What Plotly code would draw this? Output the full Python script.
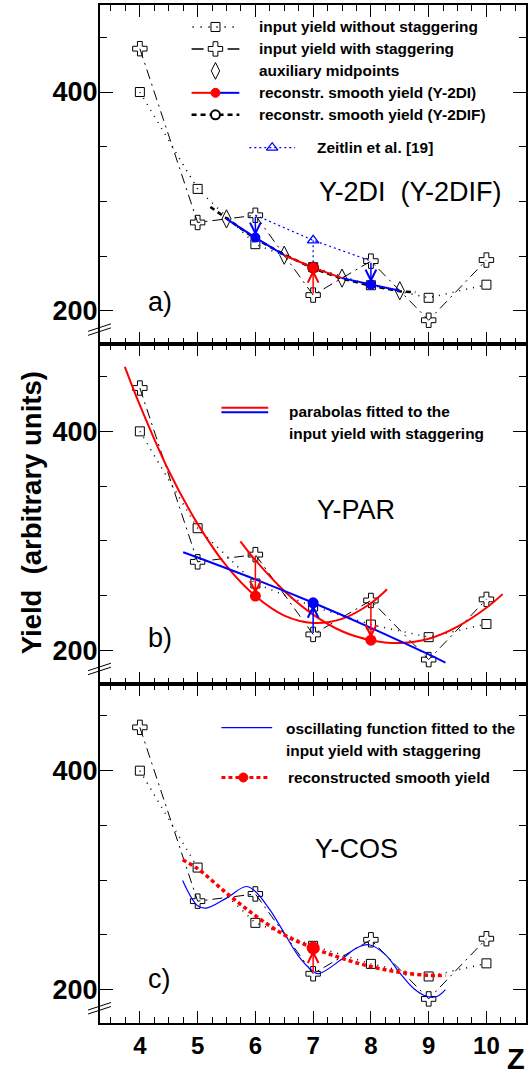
import plotly.graph_objects as go
from plotly.subplots import make_subplots

# ---------------- data ----------------
Z = [4, 5, 6, 7, 8, 9, 10]
yield_no_stag = [400, 311.5, 261, 240, 223.5, 212, 224]
yield_stag = [439.6, 280.8, 287.4, 214.5, 245.5, 191.5, 246.5]

# panel a
mid_Z = [5.5, 6.5, 7.5, 8.5]
mid_vals = [284.1, 250.9, 230.0, 218.5]
y2di_Z = [5.5, 6, 6.5, 7, 7.5, 8, 8.5]
y2di_vals = [284.1, 267.0, 250.9, 239.6, 230.0, 224.0, 218.5]
y2dif_Z = [5.22, 5.5, 6, 6.5, 7, 7.5, 8, 8.5, 8.77]
y2dif_vals = [295, 284.5, 266, 251.5, 239, 229.5, 223, 218, 217]
zeit_Z = [6, 7, 8]
zeit_vals = [287.5, 264.5, 245.7]

# panel b (parabolas)
par1_Z = [3.74, 4.0, 4.5, 5.0, 5.5, 6.0, 6.5, 7.0, 7.5, 8.0, 8.28]
par1_vals = [459, 424, 364, 315.5, 277, 249.5, 231.7, 225, 228.7, 243, 255.7]
par2_Z = [5.74, 6.0, 6.5, 7.0, 7.5, 8.0, 8.5, 9.0, 9.5, 10.0, 10.28]
par2_vals = [299.5, 282.3, 254.2, 232.6, 217.4, 209.2, 206.6, 210.5, 221.6, 238.8, 251.3]
par3_Z = [4.75, 5.0, 6.0, 7.0, 8.0, 9.0, 9.29]
par3_vals = [289.6, 284.8, 264.8, 243.4, 220.5, 196.2, 188.8]
parb_red_Z = [6, 8]
parb_red_vals = [249.5, 209.2]
parb_blue_Z = [7]
parb_blue_vals = [243.4]

# panel c
osc_Z = [4.74, 5.0, 5.15, 5.5, 5.84, 6.0, 6.25, 6.5, 6.75, 7.0, 7.1, 7.5, 7.75,
         7.97, 8.25, 8.5, 8.75, 9.0, 9.15, 9.29]
osc_vals = [299.7, 276.6, 274.5, 283.6, 294.2, 289.7, 273, 251.7, 230.4, 216.7,
            214.6, 228, 238, 241, 232, 215.2, 200.6, 193.3, 193.9, 200]
smooth_Z = [4.74, 5.0, 5.5, 6.0, 6.5, 7.0, 7.5, 8.0, 8.5, 9.0, 9.29]
smooth_vals = [318.6, 310.5, 288.2, 267.5, 250, 238, 228.5, 221, 215.8, 213, 213]

x_ticks = [4, 5, 6, 7, 8, 9, 10]
y_ticks = [200, 400]

# ---------------- layout geometry ----------------
W, H = 531, 1075
ML, MR, MT, MB = 100, 3, 3, 52
PW = W - ML - MR
PH = H - MT - MB
FONT = "Liberation Sans, Arial, sans-serif"


def px(x):
    return (x - ML) / PW


def py(y):
    return (H - MB - y) / PH


fig = make_subplots(rows=3, cols=1, shared_xaxes=True, vertical_spacing=0)

RED = "#ff0000"
BLUE = "#0000ff"


def add_inputs(row):
    fig.add_trace(go.Scatter(x=Z, y=yield_no_stag, mode="lines+markers",
                             line=dict(color="black", width=1.5, dash="1px,6px"),
                             marker=dict(symbol="square-open", size=9, color="black",
                                         line=dict(width=1)),
                             showlegend=False), row=row, col=1)
    fig.add_trace(go.Scatter(x=Z, y=yield_stag, mode="lines+markers",
                             line=dict(color="black", width=1, dash="10px,5px,2px,5px"),
                             marker=dict(symbol="cross-open", size=12, color="black",
                                         line=dict(width=1)),
                             showlegend=False), row=row, col=1)


def add_arrow(xref, yref, x, y0, y1, color):
    fig.add_annotation(x=x, y=y1, ax=x, ay=y0, xref=xref, yref=yref,
                       axref=xref, ayref=yref, text="", showarrow=True,
                       arrowhead=5, arrowsize=1.4, arrowwidth=1.5,
                       arrowcolor=color, standoff=2)


# ---- panel a ----
add_inputs(1)
fig.add_trace(go.Scatter(x=mid_Z, y=mid_vals, mode="markers",
                         marker=dict(symbol="diamond-tall-open", size=13, color="black",
                                     line=dict(width=1)), showlegend=False), row=1, col=1)
fig.add_trace(go.Scatter(x=y2dif_Z, y=y2dif_vals, mode="lines",
                         line=dict(color="black", width=2.5, dash="5px,4px"),
                         showlegend=False), row=1, col=1)
for sl, col in [(slice(0, 3), BLUE), (slice(2, 5), RED), (slice(4, 7), BLUE)]:
    fig.add_trace(go.Scatter(x=y2di_Z[sl], y=y2di_vals[sl], mode="lines",
                             line=dict(color=col, width=2), showlegend=False), row=1, col=1)
fig.add_trace(go.Scatter(x=zeit_Z, y=zeit_vals, mode="lines",
                         line=dict(color=BLUE, width=1.2, dash="2px,3px"),
                         showlegend=False), row=1, col=1)
fig.add_trace(go.Scatter(x=[zeit_Z[1], zeit_Z[1]], y=[zeit_vals[1], y2di_vals[3]], mode="lines",
                         line=dict(color=BLUE, width=1.2, dash="2px,3px"),
                         showlegend=False), row=1, col=1)
fig.add_trace(go.Scatter(x=[zeit_Z[1]], y=[zeit_vals[1]], mode="markers",
                         marker=dict(symbol="triangle-up-open", size=10, color=BLUE,
                                     line=dict(width=1.3)), showlegend=False), row=1, col=1)
fig.add_trace(go.Scatter(x=[y2di_Z[1], y2di_Z[5]], y=[y2di_vals[1], y2di_vals[5]], mode="markers",
                         marker=dict(symbol="circle", size=10, color=BLUE), showlegend=False),
              row=1, col=1)
fig.add_trace(go.Scatter(x=[y2di_Z[3]], y=[y2di_vals[3]], mode="markers",
                         marker=dict(symbol="circle", size=11, color=RED,
                                     line=dict(color="#800000", width=1)), showlegend=False),
              row=1, col=1)
add_arrow("x", "y", 6, yield_stag[2], y2di_vals[1], BLUE)
add_arrow("x", "y", 7, yield_stag[3], y2di_vals[3], RED)
add_arrow("x", "y", 8, yield_stag[4], y2di_vals[5], BLUE)

# ---- panel b ----
add_inputs(2)
fig.add_trace(go.Scatter(x=par1_Z, y=par1_vals, mode="lines", line_shape="spline",
                         line=dict(color=RED, width=2), showlegend=False), row=2, col=1)
fig.add_trace(go.Scatter(x=par2_Z, y=par2_vals, mode="lines", line_shape="spline",
                         line=dict(color=RED, width=2), showlegend=False), row=2, col=1)
fig.add_trace(go.Scatter(x=par3_Z, y=par3_vals, mode="lines", line_shape="spline",
                         line=dict(color=BLUE, width=2), showlegend=False), row=2, col=1)
fig.add_trace(go.Scatter(x=parb_red_Z, y=parb_red_vals, mode="markers",
                         marker=dict(symbol="circle", size=11, color=RED), showlegend=False),
              row=2, col=1)
fig.add_trace(go.Scatter(x=parb_blue_Z, y=parb_blue_vals, mode="markers",
                         marker=dict(symbol="circle", size=11, color=BLUE), showlegend=False),
              row=2, col=1)
add_arrow("x2", "y2", 6, yield_stag[2], parb_red_vals[0], RED)
add_arrow("x2", "y2", 7, yield_stag[3], parb_blue_vals[0], BLUE)
add_arrow("x2", "y2", 8, yield_stag[4], parb_red_vals[1], RED)

# ---- panel c ----
add_inputs(3)
fig.add_trace(go.Scatter(x=osc_Z, y=osc_vals, mode="lines", line_shape="spline",
                         line=dict(color=BLUE, width=1.2), showlegend=False), row=3, col=1)
fig.add_trace(go.Scatter(x=smooth_Z, y=smooth_vals, mode="lines", line_shape="spline",
                         line=dict(color=RED, width=3.5, dash="4px,3px"), showlegend=False),
              row=3, col=1)
fig.add_trace(go.Scatter(x=[7], y=[smooth_vals[5]], mode="markers",
                         marker=dict(symbol="circle", size=13, color=RED), showlegend=False),
              row=3, col=1)
add_arrow("x3", "y3", 7, yield_stag[3], smooth_vals[5], RED)

# ---------------- axes ----------------
for i in (1, 2, 3):
    fig.update_xaxes(row=i, col=1, range=[3.31, 10.685], showline=True, linecolor="black",
                     linewidth=2, mirror="allticks", ticks="inside", ticklen=12, tickwidth=1,
                     tickcolor="black", tickvals=x_ticks, showgrid=False, zeroline=False,
                     minor=dict(dtick=0.25, tick0=0, ticklen=6, ticks="inside",
                                tickcolor="black", tickwidth=1, showgrid=False),
                     tickfont=dict(family=FONT, size=24, color="black", weight="bold"))
    fig.update_yaxes(row=i, col=1, range=[169.5, 479.5], showline=True, linecolor="black",
                     linewidth=2, mirror="allticks", ticks="inside", ticklen=13, tickwidth=1,
                     tickcolor="black", tickvals=y_ticks, showgrid=False, zeroline=False,
                     ticklabelstandoff=-5,
                     minor=dict(dtick=50, tick0=0, ticklen=7, ticks="inside",
                                tickcolor="black", tickwidth=1, showgrid=False),
                     tickfont=dict(family=FONT, size=27, color="black", weight="bold"))

# overlay axis in pixel units for legends
fig.update_layout(
    xaxis4=dict(domain=[0, 1], range=[ML, W - MR], visible=False, anchor="y4", fixedrange=True),
    yaxis4=dict(domain=[0, 1], range=[H - MB, MT], visible=False, anchor="x4", fixedrange=True),
)


def leg_line(x0, x1, y, color, width, dash="solid"):
    fig.add_trace(go.Scatter(x=[x0, x1], y=[y, y], mode="lines", xaxis="x4", yaxis="y4",
                             line=dict(color=color, width=width, dash=dash),
                             showlegend=False, hoverinfo="skip"))


def leg_marker(x, y, symbol, size, color, lw=1, lcolor=None):
    fig.add_trace(go.Scatter(x=[x], y=[y], mode="markers", xaxis="x4", yaxis="y4",
                             marker=dict(symbol=symbol, size=size, color=color,
                                         line=dict(width=lw, color=lcolor or color)),
                             showlegend=False, hoverinfo="skip"))


def txt(x, y, s, size=15.4, bold=True, anchor="left"):
    fig.add_annotation(x=px(x), y=py(y), xref="paper", yref="paper", text=s,
                       showarrow=False, xanchor=anchor, yanchor="middle",
                       font=dict(family=FONT, size=size, color="black",
                                 weight="bold" if bold else "normal"))


# panel a legend
leg_line(193, 240, 25, "black", 2, "1px,7px")
leg_marker(216, 25, "square-open", 9, "black")
leg_line(192, 240, 47, "black", 1.5, "12px,24px")
leg_marker(216, 47, "cross-open", 12, "black")
leg_marker(216, 69, "diamond-tall-open", 12, "black")
leg_line(192, 216, 91, RED, 2)
leg_line(216, 240, 91, BLUE, 2)
leg_marker(216, 91, "circle", 9, RED)
leg_line(192, 240, 113, "black", 2.5, "5px,4px")
leg_marker(216, 113, "circle", 9, "white", 2, "black")
leg_line(250, 296, 146, BLUE, 1.2, "2px,3px")
leg_marker(273, 146, "triangle-up-open", 10, BLUE, 1.3)
txt(258, 25, "input yield without staggering")
txt(258, 47, "input yield with staggering")
txt(258, 69, "auxiliary midpoints")
txt(258, 91, "reconstr. smooth yield (Y-2DI)")
txt(258, 113, "reconstr. smooth yield (Y-2DIF)")
txt(316, 146, "Zeitlin et al. [19]")
txt(412, 190, "Y-2DI\u00a0\u00a0(Y-2DIF)", size=27, bold=False, anchor="center")
txt(146, 301, "a)", size=27, bold=False)

# panel b legend
leg_line(222, 269, 406.5, RED, 2)
leg_line(222, 269, 411, BLUE, 2)
txt(288, 410, "parabolas fitted to the")
txt(288, 432, "input yield with staggering")
txt(357, 509, "Y-PAR", size=27, bold=False, anchor="center")
txt(146, 637, "b)", size=27, bold=False)

# panel c legend
leg_line(222, 273, 727, BLUE, 1.2)
txt(285, 728, "oscillating function fitted to the")
txt(285, 750, "input yield with staggering")
leg_line(222, 270, 777, RED, 3, "4px,3px")
leg_marker(244, 777, "circle", 9, RED)
txt(287, 777, "reconstructed smooth yield")
txt(358, 849, "Y-COS", size=27, bold=False, anchor="center")
txt(146, 979, "c)", size=27, bold=False)

# axis titles
fig.add_annotation(x=px(31), y=py(512), xref="paper", yref="paper",
                   text="Yield\u00a0\u00a0(arbitrary units)", textangle=-90, showarrow=False,
                   xanchor="center", yanchor="middle",
                   font=dict(family=FONT, size=27.5, color="black", weight="bold"))
fig.add_annotation(x=px(518), y=py(1059), xref="paper", yref="paper", text="Z",
                   showarrow=False, xanchor="center", yanchor="middle",
                   font=dict(family=FONT, size=29, color="black", weight="bold"))

# axis break marks
shapes = []
for off in (0, 340, 680):
    for d in (0, 4):
        shapes.append(dict(type="line", xref="paper", yref="paper",
                           x0=px(88), y0=py(330 + off + d), x1=px(111), y1=py(322.5 + off + d),
                           line=dict(color="black", width=1)))
fig.update_layout(shapes=shapes)

fig.update_layout(width=W, height=H, margin=dict(l=ML, r=MR, t=MT, b=MB),
                  paper_bgcolor="white", plot_bgcolor="rgba(0,0,0,0)", showlegend=False,
                  font=dict(family=FONT, color="black"))

fig.write_html("out.html")
